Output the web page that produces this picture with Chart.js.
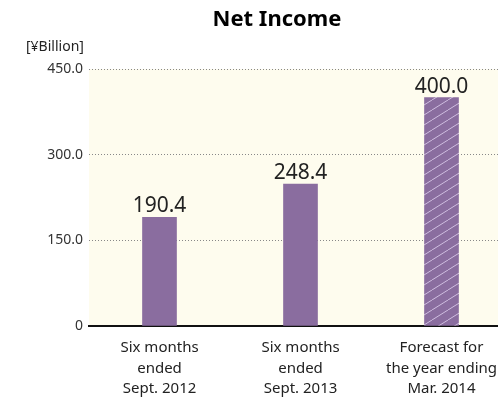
<!DOCTYPE html>
<html>
<head>
<meta charset="utf-8">
<script src="https://cdn.jsdelivr.net/npm/chart.js@4"></script>
<style>
  html, body { margin: 0; padding: 0; background: #fff; overflow: hidden; }
  #wrap { width: 498px; height: 398px; overflow: hidden; }
</style>
</head>
<body>
<div id="wrap"><canvas id="c" width="512" height="398"></canvas></div>
<script>
const categories = [
  ['Six months', 'ended', 'Sept. 2012'],
  ['Six months', 'ended', 'Sept. 2013'],
  ['Forecast for', 'the year ending', 'Mar. 2014']
]
const netIncome = [190.4, 248.4, 400.0]
const yTicks = [0, 150, 300, 450]

const PURPLE = '#8a6d9f'
const FONT = '"Noto Sans", "Open Sans", sans-serif'

// hatched fill for the forecast bar
function hatch () {
  const p = document.createElement('canvas')
  p.width = 16
  p.height = 10
  const g = p.getContext('2d')
  g.fillStyle = PURPLE
  g.fillRect(0, 0, 16, 10)
  g.strokeStyle = 'rgba(225,210,240,0.8)'
  g.lineWidth = 1
  g.beginPath()
  for (let k = -1; k <= 1; k++) {
    g.moveTo(k * 16, 10)
    g.lineTo(k * 16 + 16, 0)
  }
  g.stroke()
  return g.createPattern(p, 'repeat')
}
const ctx = document.getElementById('c').getContext('2d')
const colors = [PURPLE, PURPLE, hatch()]

const extras = {
  id: 'extras',
  beforeDraw (chart) {
    const a = chart.chartArea
    const c = chart.ctx
    c.save()
    c.fillStyle = '#fefcee'
    c.fillRect(a.left, a.top, a.right - a.left, a.bottom - a.top)
    c.restore()
  },
  afterDraw (chart) {
    const c = chart.ctx
    c.save()
    c.fillStyle = '#000'
    c.textAlign = 'center'
    c.textBaseline = 'middle'
    c.font = 'bold 22px ' + FONT
    c.fillText('Net Income', 277, 20)
    c.fillStyle = '#222'
    c.font = '14px ' + FONT
    c.textAlign = 'left'
    c.fillText('[¥Billion]', 26, 47)
    c.font = '21px ' + FONT
    c.textAlign = 'center'
    c.textBaseline = 'alphabetic'
    chart.getDatasetMeta(0).data.forEach((bar, i) => {
      c.fillText(netIncome[i].toFixed(1), bar.x, bar.y - 5)
    })
    c.restore()
  }
}

new Chart(ctx, {
  type: 'bar',
  data: {
    labels: categories,
    datasets: [{
      data: netIncome,
      backgroundColor: colors,
      borderWidth: 0,
      barThickness: 34
    }]
  },
  options: {
    responsive: false,
    animation: false,
    layout: { padding: { top: 69, left: 0, right: 0, bottom: 0 } },
    plugins: { legend: { display: false }, tooltip: { enabled: false } },
    scales: {
      x: {
        grid: { display: false },
        border: { color: '#111', width: 2 },
        ticks: { color: '#222', font: { family: FONT, size: 15, lineHeight: 1.35 }, padding: 4, maxRotation: 0 },
        afterFit (s) { s.height = 72 }
      },
      y: {
        min: 0,
        max: 450,
        afterBuildTicks (s) { s.ticks = yTicks.map(v => ({ value: v })) },
        grid: {
          drawTicks: false,
          color: c => c.tick && c.tick.value === 0 ? 'rgba(0,0,0,0)' : '#888',
          lineWidth: 1
        },
        border: { display: false, dash: [1, 2] },
        ticks: {
          color: '#333',
          padding: 6,
          font: { family: FONT, size: 14 },
          callback: v => v === 0 ? '0' : v.toFixed(1)
        },
        afterFit (s) { s.width = 89 }
      }
    }
  },
  plugins: [extras]
})
</script>
</body>
</html>
